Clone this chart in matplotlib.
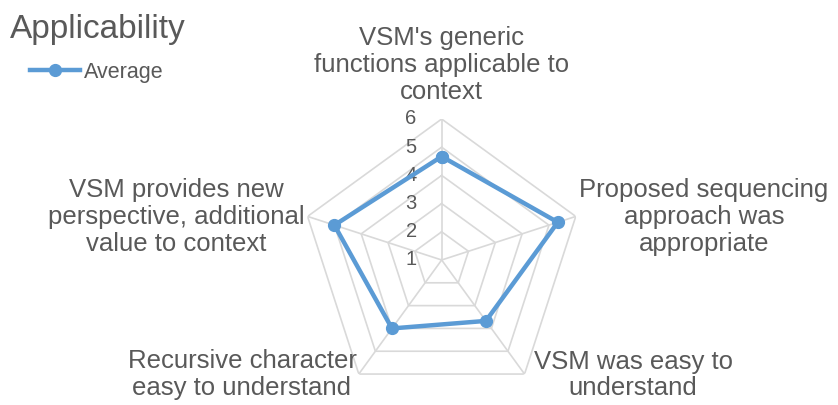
import numpy as np
import matplotlib
matplotlib.use('Agg')
import matplotlib.pyplot as plt
from matplotlib.transforms import offset_copy

plt.rcParams['font.family'] = ['Liberation Sans', 'DejaVu Sans']

# data
categories = ["VSM's generic\nfunctions applicable to\ncontext",
              "Proposed sequencing\napproach was\nappropriate",
              "VSM was easy to\nunderstand",
              "Recursive character\neasy to understand",
              "VSM provides new\nperspective, additional\nvalue to context"]
average = [4.67, 5.33, 3.67, 4.0, 5.0]
ticks = [1, 2, 3, 4, 5, 6]

text_col = '#595959'
grid_col = '#d9d9d9'
line_col = '#5B9BD5'

fig = plt.figure(figsize=(8.38, 4.05), dpi=100)
ax = fig.add_axes([0.3588, 0.0099, 0.3365, 0.6963], projection='polar')
ax.set_theta_offset(np.pi / 2)
ax.set_theta_direction(-1)
ax.set_ylim(1, 6)
ax.grid(False)
ax.spines['polar'].set_visible(False)
ax.set_xticks([])
ax.set_yticks([])

n = len(categories)
theta = np.linspace(0, 2 * np.pi, n, endpoint=False)
theta_c = np.append(theta, theta[0])

# pentagon grid
for v in ticks[1:]:
    ax.plot(theta_c, [v] * (n + 1), color=grid_col, lw=1.2, zorder=1)
for t in theta:
    ax.plot([t, t], [ticks[0], ticks[-1]], color=grid_col, lw=1.2, zorder=1)

# tick labels
tr = offset_copy(ax.transData, fig=fig, x=-25, y=0, units='dots')
for v in ticks:
    ax.text(0, v, str(v), transform=tr, ha='right', va='center',
            fontsize=14.5, color=text_col)

# series
vals = average + average[:1]
ax.plot(theta_c, vals, color=line_col, lw=3.2, marker='o', ms=8.5,
        label='Average', zorder=3, clip_on=False)

# category labels (angle in degrees clockwise from top, radius)
label_pos = [(0, 7.91), (80.7, 10.43), (121, 8.92), (240.1, 9.17), (279.2, 10.54)]
for name, (ang, r) in zip(categories, label_pos):
    ax.text(np.deg2rad(ang), r, name, ha='center', va='center',
            fontsize=18.5, color=text_col, linespacing=1.15, clip_on=False)

fig.text(10 / 838, 1 - 38 / 405, 'Applicability', fontsize=24,
         color=text_col, va='baseline', ha='left')

fig.legend(loc='upper left', bbox_to_anchor=(30 / 838, 1 - 62 / 405),
           frameon=False, fontsize=15.5, handlelength=2.3, handletextpad=0.2,
           borderpad=0, borderaxespad=0, labelcolor=text_col, numpoints=1)

fig.savefig('out.png', dpi=100)
